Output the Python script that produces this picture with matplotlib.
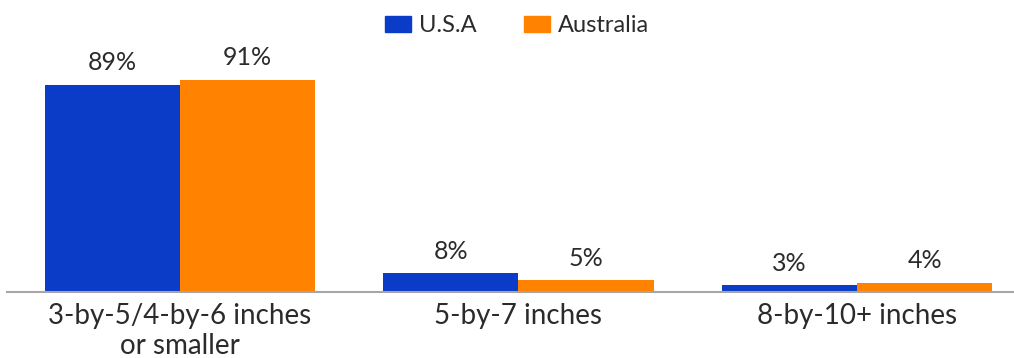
import matplotlib.pyplot as plt
import numpy as np
from matplotlib.patches import Patch

# ========== 数据 ==========
categories = ["3-by-5/4-by-6 inches\nor smaller", "5-by-7 inches", "8-by-10+ inches"]
usa = [89, 8, 3]
australia = [91, 5, 4]
series_names = ["U.S.A", "Australia"]

BLUE = "#0A3CC8"
ORANGE = "#FF8200"
TEXT = "#2B2B2B"

plt.rcParams['font.family'] = ['Lato', 'DejaVu Sans']

W, H = 1014, 358
fig = plt.figure(figsize=(W / 100, H / 100), dpi=100)
# 坐标轴区域（像素换算）
left_px, right_px = 7, 1014
base_px, top_px = 292, 59
ax = fig.add_axes([left_px / W, (H - base_px) / H,
                   (right_px - left_px) / W, (base_px - top_px) / H])

x = np.arange(len(categories))
w = 0.4
b1 = ax.bar(x - w / 2, usa, w, color=BLUE)
b2 = ax.bar(x + w / 2, australia, w, color=ORANGE)

for bars, vals in ((b1, usa), (b2, australia)):
    for r, v in zip(bars, vals):
        ax.text(r.get_x() + r.get_width() / 2, v + 4.5, f"{v}%",
                ha="center", va="bottom", fontsize=18, color=TEXT)

ax.set_xlim(-0.511, 2.464)
ax.set_ylim(0, 100)
ax.set_xticks(x)
ax.set_xticklabels(categories, fontsize=20, color=TEXT, linespacing=1.18)
ax.tick_params(axis="x", length=0, pad=8)
ax.set_yticks([])
for s in ("top", "right", "left"):
    ax.spines[s].set_visible(False)
ax.spines["bottom"].set_color("#A6A6A6")
ax.spines["bottom"].set_linewidth(1.5)

handles = [Patch(color=BLUE), Patch(color=ORANGE)]
fig.legend(handles, series_names, loc="center", bbox_to_anchor=(517 / W, 1 - 26 / H),
           ncol=2, frameon=False, fontsize=17, handlelength=1.1, handleheight=0.65,
           handletextpad=0.35, columnspacing=2.0, labelcolor=TEXT)

fig.savefig("out.png", dpi=100)
